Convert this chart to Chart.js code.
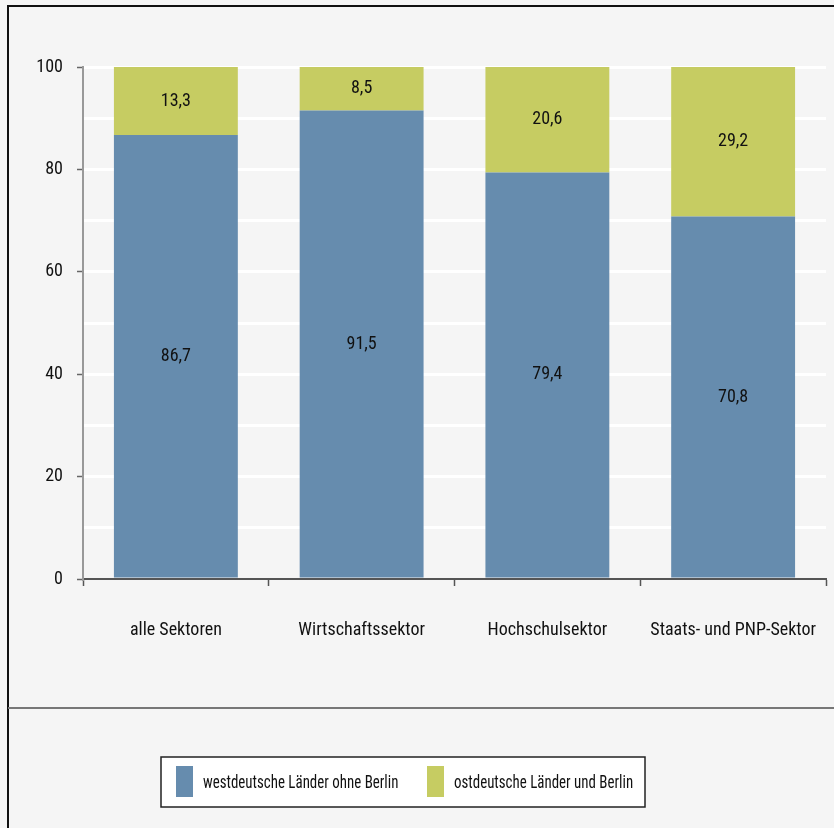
<!DOCTYPE html>
<html>
<head>
<meta charset="utf-8">
<script src="https://cdn.jsdelivr.net/npm/chart.js@4/dist/chart.umd.min.js"></script>
<style>
  html, body { margin: 0; padding: 0; background: #f5f5f5; }
  #wrap { width: 834px; height: 828px; position: relative; }
</style>
</head>
<body>
<div id="wrap"><canvas id="c" width="834" height="828"></canvas></div>
<script>
// Anteile (in %) nach Sektoren
const categories = ['alle Sektoren', 'Wirtschaftssektor', 'Hochschulsektor', 'Staats- und PNP-Sektor'];
const westValues = [86.7, 91.5, 79.4, 70.8];
const ostValues = [13.3, 8.5, 20.6, 29.2];
const seriesNames = ['westdeutsche Länder ohne Berlin', 'ostdeutsche Länder und Berlin'];
const seriesColors = ['#668cae', '#c6cc62'];
const yTicks = [0, 20, 40, 60, 80, 100];

const FONT = "'Roboto Condensed', 'DejaVu Sans Condensed', sans-serif";
const fmt = v => v.toFixed(1).replace('.', ',');

// page background, outer frame and separator line
const framePlugin = {
  id: 'frame',
  beforeDraw(chart) {
    const ctx = chart.ctx;
    ctx.save();
    ctx.fillStyle = '#f5f5f5';
    ctx.fillRect(0, 0, chart.width, chart.height);
    ctx.restore();
  },
  afterDraw(chart) {
    const ctx = chart.ctx;
    ctx.save();
    ctx.strokeStyle = '#111';
    ctx.lineWidth = 2;
    ctx.beginPath();
    ctx.moveTo(8, 828);
    ctx.lineTo(8, 6);
    ctx.lineTo(834, 6);
    ctx.stroke();
    ctx.strokeStyle = '#777';
    ctx.beginPath();
    ctx.moveTo(8, 708);
    ctx.lineTo(834, 708);
    ctx.stroke();
    ctx.restore();
  }
};

// value labels centred in each stacked segment
const valueLabels = {
  id: 'valueLabels',
  afterDatasetsDraw(chart) {
    const ctx = chart.ctx;
    ctx.save();
    ctx.font = '18px ' + FONT;
    ctx.fillStyle = '#111';
    ctx.textAlign = 'center';
    ctx.textBaseline = 'middle';
    chart.data.datasets.forEach((ds, i) => {
      chart.getDatasetMeta(i).data.forEach((el, j) => {
        const p = el.getProps(['x', 'y', 'base'], true);
        ctx.fillText(fmt(ds.data[j]), p.x, (p.y + p.base) / 2);
      });
    });
    ctx.restore();
  }
};

// boxed legend below the separator
const boxLegend = {
  id: 'boxLegend',
  afterDraw(chart) {
    const ctx = chart.ctx;
    ctx.save();
    ctx.fillStyle = '#ffffff';
    ctx.fillRect(161, 757, 484, 50);
    ctx.strokeStyle = '#222';
    ctx.lineWidth = 1.5;
    ctx.strokeRect(161, 757, 484, 50);
    const items = [{ x: 176 }, { x: 427 }];
    ctx.font = '18px ' + FONT;
    ctx.textBaseline = 'middle';
    ctx.textAlign = 'left';
    chart.data.datasets.forEach((ds, i) => {
      const it = items[i];
      ctx.fillStyle = ds.backgroundColor;
      ctx.fillRect(it.x, 766, 17, 31);
      ctx.fillStyle = '#111';
      const tx = it.x + 27;
      ctx.save();
      ctx.translate(tx, 783);
      ctx.scale(0.83, 1);
      ctx.fillText(ds.label, 0, 0);
      ctx.restore();
    });
    ctx.restore();
  }
};

new Chart(document.getElementById('c'), {
  type: 'bar',
  data: {
    labels: categories,
    datasets: [
      { label: seriesNames[0], data: westValues, backgroundColor: seriesColors[0] },
      { label: seriesNames[1], data: ostValues, backgroundColor: seriesColors[1] }
    ]
  },
  options: {
    responsive: false,
    animation: false,
    devicePixelRatio: 1,
    layout: { padding: { top: 67, right: 8, left: 0, bottom: 0 } },
    datasets: { bar: { categoryPercentage: 1, barPercentage: 0.667 } },
    plugins: { legend: { display: false }, tooltip: { enabled: false } },
    scales: {
      x: {
        stacked: true,
        afterFit(scale) {
          scale.height = 249;
          scale.paddingLeft = 0;
          scale.paddingRight = 0;
        },
        grid: { display: true, drawOnChartArea: false, drawTicks: true, tickLength: 7, tickColor: '#555', tickWidth: 1.5, offset: true },
        border: { display: true, color: '#555', width: 2 },
        ticks: { color: '#111', font: { family: FONT, size: 18 }, padding: 34, maxRotation: 0, autoSkip: false }
      },
      y: {
        stacked: true,
        min: 0,
        max: 100,
        afterFit(scale) { scale.width = 83; },
        afterBuildTicks(scale) {
          const t = [];
          for (let v = 0; v <= 100; v += 10) t.push({ value: v });
          scale.ticks = t;
        },
        grid: {
          color: ctx => ctx.tick && ctx.tick.value === 0 ? 'rgba(0,0,0,0)' : '#ffffff',
          lineWidth: 3,
          tickLength: 6,
          tickColor: ctx => (ctx.tick && yTicks.includes(ctx.tick.value)) ? '#666' : 'rgba(0,0,0,0)',
          tickWidth: 1.5
        },
        border: { display: true, color: '#999', width: 2 },
        ticks: {
          color: '#111',
          padding: 14,
          autoSkip: false,
          font: { family: FONT, size: 18 },
          callback: v => yTicks.includes(v) ? String(v) : ''
        }
      }
    }
  },
  plugins: [framePlugin, valueLabels, boxLegend]
});
</script>
</body>
</html>
